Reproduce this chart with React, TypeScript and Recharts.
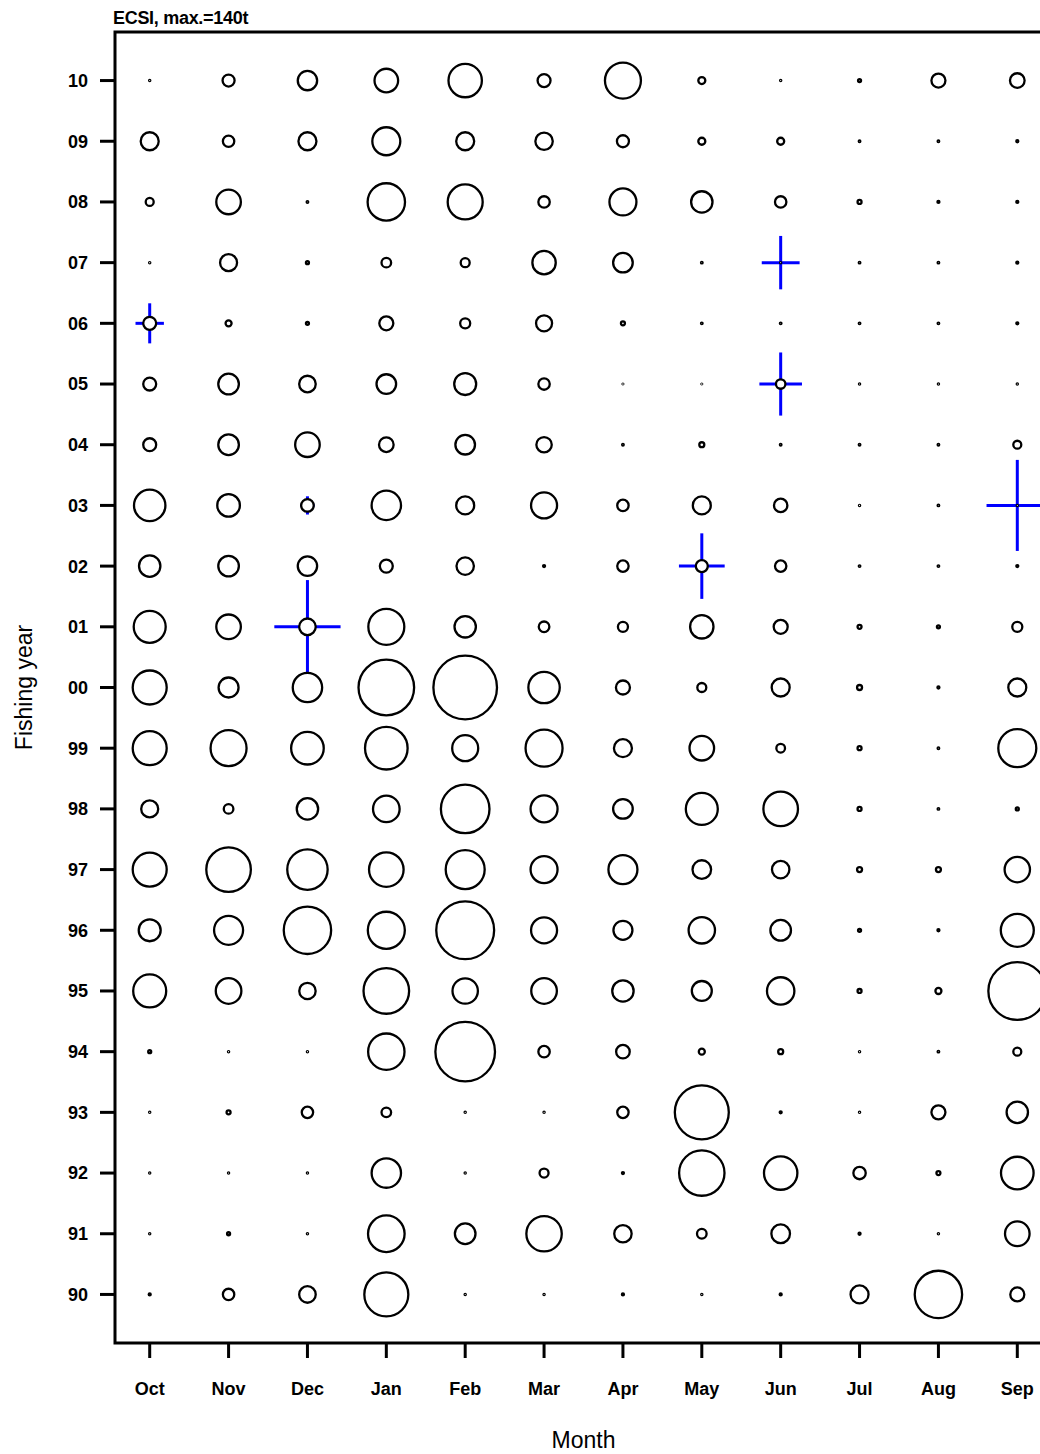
import React from 'react';
import {
  ScatterChart,
  Scatter,
  XAxis,
  YAxis,
  ZAxis,
  ReferenceArea,
  ErrorBar,
  Label,
} from 'recharts';

// Months of the fishing year (Oct..Sep)
const months = ['Oct', 'Nov', 'Dec', 'Jan', 'Feb', 'Mar', 'Apr', 'May', 'Jun', 'Jul', 'Aug', 'Sep'];

// Fishing years, bottom to top
const fishingYears = [
  '90', '91', '92', '93', '94', '95', '96', '97', '98', '99',
  '00', '01', '02', '03', '04', '05', '06', '07', '08', '09', '10',
];

// Catch (t) per fishing year (rows, same order as fishingYears) and month (columns)
const catchTonnes: number[][] = [
  [0.14, 4.5, 9.5, 67, 0.05, 0.05, 0.14, 0.05, 0.14, 11.2, 77.7, 6.8], // 90
  [0.05, 0.31, 0.05, 46.3, 14.7, 43.4, 10.5, 3.2, 12, 0.14, 0.05, 20.9], // 91
  [0.05, 0.05, 0.05, 29.9, 0.05, 2.8, 0.14, 71.3, 38.6, 5.3, 0.55, 36.8], // 92
  [0.05, 0.55, 4.5, 3.2, 0.05, 0.05, 4.5, 100.9, 0.14, 0.05, 6.8, 15.8], // 93
  [0.31, 0.05, 0.05, 45.8, 123, 4.5, 6.4, 1.25, 0.86, 0.05, 0.09, 2.2], // 94
  [37.7, 22.7, 9.3, 71.9, 22.3, 22.7, 15.8, 13.8, 26, 0.55, 1.25, 116], // 95
  [16.7, 29.1, 77.7, 47.4, 116, 23.4, 12.5, 24.1, 14.7, 0.31, 0.14, 37.7], // 96
  [40, 68.8, 56.5, 41.4, 52.6, 25.2, 29.1, 12, 10.5, 0.86, 0.86, 22.3], // 97
  [10, 3.2, 15.8, 24.5, 81.7, 25.2, 13.3, 35.4, 41.4, 0.55, 0.09, 0.31], // 98
  [40, 44.8, 36.8, 62.8, 23.4, 47.4, 11.2, 20.9, 2.6, 0.55, 0.09, 50], // 99
  [40, 13.8, 29.9, 107, 140, 34.1, 6.8, 2.8, 11.2, 0.86, 0.14, 11.2], // 00
  [35.4, 20.9, 9.5, 44.8, 15.8, 3.9, 3.5, 18.9, 6.8, 0.55, 0.31, 3.5], // 01
  [15.8, 14.7, 13, 5.8, 10.5, 0.14, 4.5, 5.0, 4.5, 0.09, 0.09, 0.14], // 02
  [34.1, 17.7, 5.5, 29.9, 11.2, 23.4, 4.5, 11.2, 6.2, 0.05, 0.09, 0.05], // 03
  [5.8, 14.7, 20.9, 7.4, 13.3, 8.2, 0.09, 0.86, 0.09, 0.09, 0.09, 2.2], // 04
  [5.8, 14.7, 9.5, 13.3, 16.7, 4.5, 0.02, 0.02, 3.1, 0.05, 0.05, 0.05], // 05
  [5.8, 1.25, 0.31, 6.8, 3.5, 8.9, 0.55, 0.09, 0.09, 0.09, 0.09, 0.14], // 06
  [0.05, 10, 0.31, 3.2, 2.8, 18.9, 13.3, 0.09, 0.05, 0.09, 0.09, 0.14], // 07
  [2.2, 20.9, 0.09, 48.4, 42.4, 4.5, 25.2, 15.8, 4.5, 0.55, 0.14, 0.14], // 08
  [11.2, 4.5, 11.2, 27.1, 11.2, 10.5, 5.0, 1.7, 1.7, 0.09, 0.09, 0.14], // 09
  [0.05, 5.0, 13, 19.3, 38.6, 5.8, 44.8, 1.7, 0.05, 0.31, 6.8, 7.4], // 10
];

// Blue crosses: position and half-lengths (horizontal in months, vertical in years)
const crossMonths = ['Oct', 'Dec', 'Dec', 'May', 'Sep', 'Jun', 'Jun'];
const crossYears = ['06', '03', '01', '02', '03', '05', '07'];
const crossHalfWidth = [0.18, 0.09, 0.42, 0.29, 0.39, 0.27, 0.24];
const crossHalfHeight = [0.33, 0.15, 0.77, 0.54, 0.75, 0.52, 0.44];

const MAX_CATCH = 140;
const MAX_RADIUS = 31.8;

const bubbleData = catchTonnes.flatMap((row, yi) =>
  row.map((t, mi) => ({ m: mi + 1, y: yi, t, label: `${months[mi]} ${fishingYears[yi]}` }))
);

const crossData = crossMonths.map((mon, i) => ({
  m: months.indexOf(mon) + 1,
  y: fishingYears.indexOf(crossYears[i]),
  t: 0,
  ex: crossHalfWidth[i],
  ey: crossHalfHeight[i],
}));

const xPad = (months.length - 1) * 0.04;
const yPad = (fishingYears.length - 1) * 0.04;
const xDomain: [number, number] = [1 - xPad, months.length + xPad];
const yDomain: [number, number] = [-yPad, fishingYears.length - 1 + yPad];

const FONT = '"Liberation Sans", Arial, Helvetica, sans-serif';

const tickStyle = { fill: '#000', fontSize: 18, fontWeight: 700, fontFamily: FONT };

export default function App() {
  return (
    <div
      style={{
        position: 'absolute',
        left: 0,
        top: 0,
        width: 1040,
        height: 1454,
        overflow: 'hidden',
        background: '#fff',
      }}
    >
      <div
        style={{
          position: 'absolute',
          left: 113,
          top: 8,
          fontFamily: FONT,
          fontWeight: 700,
          fontSize: 18,
          letterSpacing: -0.3,
          color: '#000',
          lineHeight: '20px',
          whiteSpace: 'nowrap',
        }}
      >
        ECSI, max.=140t
      </div>
      <ScatterChart
        width={1110}
        height={1454}
        margin={{ top: 32, right: 58, bottom: 0, left: 0 }}
      >
        <XAxis
          type="number"
          dataKey="m"
          domain={xDomain}
          allowDataOverflow
          ticks={months.map((_, i) => i + 1)}
          tickFormatter={(v: number) => months[v - 1] ?? ''}
          interval={0}
          height={111}
          axisLine={false}
          tickSize={15}
          tickMargin={24}
          tickLine={{ stroke: '#000', strokeWidth: 3 }}
          tick={tickStyle}
        >
          <Label
            content={(props: any) => {
              const vb = props.viewBox || {};
              return (
                <text
                  x={vb.x + vb.width / 2}
                  y={vb.y + vb.height - 6}
                  textAnchor="middle"
                  fontFamily={FONT}
                  fontSize={23}
                  fill="#000"
                >
                  Month
                </text>
              );
            }}
          />
        </XAxis>
        <YAxis
          type="number"
          dataKey="y"
          domain={yDomain}
          allowDataOverflow
          ticks={fishingYears.map((_, i) => i)}
          tickFormatter={(v: number) => fishingYears[v] ?? ''}
          interval={0}
          width={115}
          axisLine={false}
          tickSize={15}
          tickMargin={12}
          tickLine={{ stroke: '#000', strokeWidth: 3 }}
          tick={tickStyle}
        >
          <Label
            content={(props: any) => {
              const vb = props.viewBox || {};
              const cx = vb.x + 32;
              const cy = vb.y + vb.height / 2;
              return (
                <text
                  x={cx}
                  y={cy}
                  transform={`rotate(-90, ${cx}, ${cy})`}
                  textAnchor="middle"
                  fontFamily={FONT}
                  fontSize={23}
                  fill="#000"
                >
                  Fishing year
                </text>
              );
            }}
          />
        </YAxis>
        <ZAxis type="number" dataKey="t" domain={[0, MAX_CATCH]} range={[0, Math.PI * MAX_RADIUS * MAX_RADIUS]} />
        <ReferenceArea
          x1={xDomain[0]}
          x2={xDomain[1]}
          y1={yDomain[0]}
          y2={yDomain[1]}
          fill="none"
          fillOpacity={0}
          stroke="#000"
          strokeWidth={3}
          ifOverflow="visible"
        />
        <Scatter
          data={bubbleData}
          shape="circle"
          fill="#fff"
          stroke="#000"
          strokeWidth={2.3}
          isAnimationActive={false}
        />
        <Scatter
          data={crossData}
          shape={() => <g />}
          fill="none"
          isAnimationActive={false}
        >
          <ErrorBar dataKey="ex" direction="x" width={0} stroke="#0000ff" strokeWidth={3} />
          <ErrorBar dataKey="ey" direction="y" width={0} stroke="#0000ff" strokeWidth={3} />
        </Scatter>
      </ScatterChart>
    </div>
  );
}
